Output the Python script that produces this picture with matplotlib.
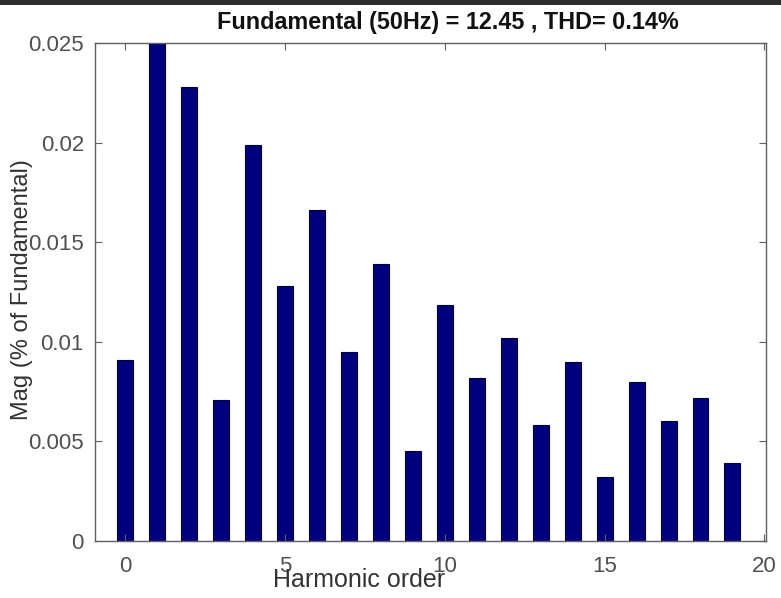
import matplotlib
matplotlib.use("Agg")
import matplotlib.pyplot as plt
from matplotlib.patches import Rectangle
from matplotlib import font_manager

# Harmonic spectrum (magnitude as % of fundamental)
harmonic_order = list(range(20))
magnitude = [0.0091, 0.0252, 0.0228, 0.0071, 0.0199, 0.0128, 0.0166, 0.0095,
             0.0139, 0.0045, 0.01185, 0.0082, 0.0102, 0.0058, 0.0090, 0.0032,
             0.0080, 0.0060, 0.0072, 0.0039]
x_ticks = [0, 5, 10, 15, 20]
y_ticks = [0, 0.005, 0.01, 0.015, 0.02, 0.025]
y_tick_labels = ["0", "0.005", "0.01", "0.015", "0.02", "0.025"]
title_text = "Fundamental (50Hz) = 12.45 , THD= 0.14%"

plt.rcParams["font.family"] = ["Liberation Sans", "DejaVu Sans"]
names = {f.name for f in font_manager.fontManager.ttflist}
narrow = "Liberation Sans Narrow" if "Liberation Sans Narrow" in names else "Liberation Sans"

W, H = 781, 598
fig = plt.figure(figsize=(W / 100, H / 100), dpi=100)
fig.patch.set_facecolor("white")
# dark window edge along the top
fig.add_artist(Rectangle((0, 1 - 5 / H), 1, 5 / H, transform=fig.transFigure,
                         facecolor="#2e2e2e", edgecolor="none"))

ax = fig.add_axes([95 / W, 57 / H, 671 / W, 498 / H])
ax.bar(harmonic_order, magnitude, width=0.5, color="#00007f",
       edgecolor="#000033", linewidth=0.8)

ax.set_xlim(-0.95, 20.05)
ax.set_ylim(0, 0.025)
ax.set_xticks(x_ticks)
ax.set_yticks(y_ticks)
ax.set_yticklabels(y_tick_labels)

tick_color = "#505050"
for s in ax.spines.values():
    s.set_color("#606060")
    s.set_linewidth(1.0)
ax.tick_params(direction="in", top=True, right=True, length=5, width=0.8,
               color="#606060", labelcolor=tick_color, labelsize=16)
ax.tick_params(axis="x", pad=11)
ax.tick_params(axis="y", pad=8)

fig.text(448 / W, 1 - 23 / H, title_text, ha="center", va="center",
         fontsize=16.8, fontweight="bold", color="#111111")
fig.text(359 / W, 1 - 580 / H, "Harmonic order", ha="center", va="center",
         fontsize=21 if narrow != "Liberation Sans" else 18,
         family=[narrow, "DejaVu Sans"], color="#333333")
ax.set_ylabel("Mag (% of Fundamental)", fontsize=17, color="#333333", labelpad=0)
ax.yaxis.set_label_coords(-(95 - 33) / 671, (541 - 290) / 498)

fig.savefig("out.png", dpi=100)
